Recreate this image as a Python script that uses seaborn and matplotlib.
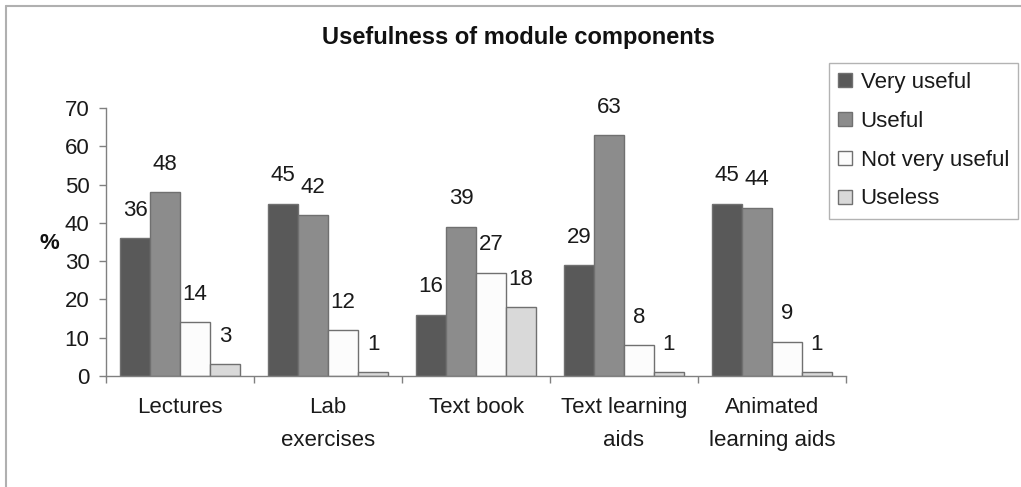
import pandas as pd
import seaborn as sns
import matplotlib.pyplot as plt
from matplotlib.lines import Line2D

# --- data ---
components = ['Lectures', 'Lab\nexercises', 'Text book', 'Text learning\naids', 'Animated\nlearning aids']
ratings = ['Very useful', 'Useful', 'Not very useful', 'Useless']
very_useful = [36, 45, 16, 29, 45]
useful = [48, 42, 39, 63, 44]
not_very_useful = [14, 12, 27, 8, 9]
useless = [3, 1, 18, 1, 1]
colors = ['#595959', '#8c8c8c', '#fcfcfc', '#d9d9d9']

series = [very_useful, useful, not_very_useful, useless]
df = pd.DataFrame({
    'component': [c for _ in ratings for c in components],
    'rating': [r for r in ratings for _ in components],
    'pct': [v for s in series for v in s],
})

sns.set_theme(style='white')
plt.rcParams['font.family'] = ['Liberation Sans', 'DejaVu Sans']

fig = plt.figure(figsize=(10.21, 4.87), dpi=100)
ax = fig.add_axes([0.104, 0.228, 0.7245, 0.55])

sns.barplot(data=df, x='component', y='pct', hue='rating', hue_order=ratings,
            order=components, palette=colors, width=0.81, gap=0,
            edgecolor='#707070', linewidth=1, ax=ax)

# value labels above each bar
for cont, vals in zip(ax.containers, series):
    for bar, v in zip(cont, vals):
        ax.annotate(str(v), (bar.get_x() + bar.get_width() / 2, bar.get_height()),
                    xytext=(0, 20), textcoords='offset points',
                    ha='center', va='center', fontsize=16, color='#1a1a1a')

ax.set_ylim(0, 70)
ax.set_xlim(-0.5, len(components) - 0.5)
ax.set_yticks(range(0, 71, 10))
ax.set_xlabel('')
ax.set_ylabel('')

# category separators as minor ticks, no major tick marks
ax.set_xticks([i - 0.5 for i in range(len(components) + 1)], minor=True)
ax.tick_params(axis='x', which='major', length=0, pad=15, labelsize=16, labelcolor='#1a1a1a')
ax.tick_params(axis='x', which='minor', length=5, width=1, color='#808080', direction='out', bottom=True)
ax.tick_params(axis='y', length=5, width=1, color='#808080', direction='out', left=True,
               pad=7, labelsize=16, labelcolor='#1a1a1a')
for lbl in ax.get_xticklabels():
    lbl.set_linespacing(1.75)

for side in ['top', 'right']:
    ax.spines[side].set_visible(False)
for side in ['left', 'bottom']:
    ax.spines[side].set_color('#808080')
    ax.spines[side].set_linewidth(1)

ax.legend_.remove()
handles = [plt.Rectangle((0, 0), 1, 1, facecolor=c, edgecolor='#707070', linewidth=1) for c in colors]
leg = fig.legend(handles, ratings, loc='upper left', bbox_to_anchor=(0.812, 0.871),
                 fontsize=16, frameon=True, fancybox=False, edgecolor='#a0a0a0',
                 handlelength=0.6, handleheight=0.6, handletextpad=0.4,
                 labelspacing=0.8, borderpad=0.42, borderaxespad=0)
leg.get_frame().set_linewidth(1)
for t in leg.get_texts():
    t.set_color('#1a1a1a')

fig.text(0.508, 0.922, 'Usefulness of module components', ha='center', va='center',
         fontsize=17, fontweight='bold', color='#111111')
fig.text(0.048, 0.501, '%', ha='center', va='center', fontsize=16, fontweight='bold', color='#111111')

# outer frame (only left and top edges visible in the reference)
fig.add_artist(Line2D([0.006, 0.006], [0, 0.988], transform=fig.transFigure, color='#b0b0b0', lw=1.5))
fig.add_artist(Line2D([0.006, 1.0], [0.988, 0.988], transform=fig.transFigure, color='#b0b0b0', lw=1.5))

fig.savefig('out.png', dpi=100)
